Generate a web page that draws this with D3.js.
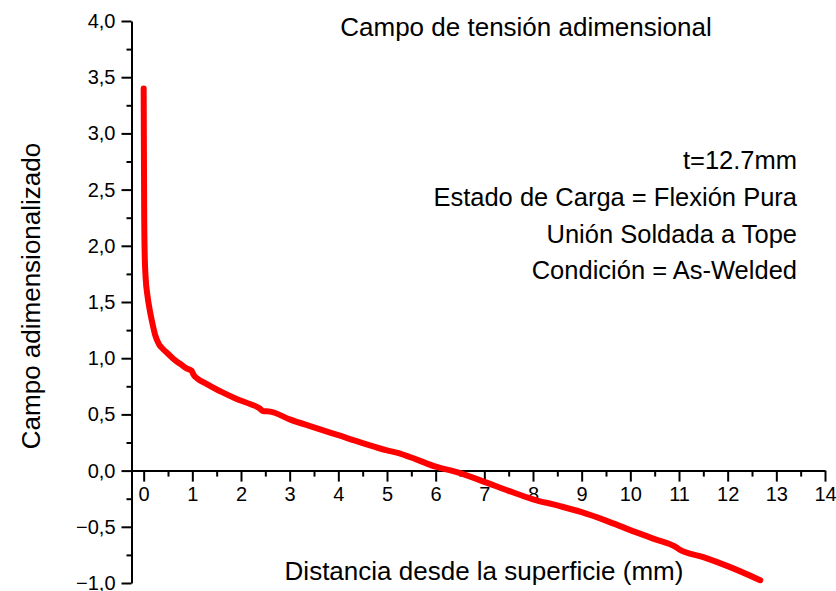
<!DOCTYPE html>
<html>
<head>
<meta charset="utf-8">
<script src="https://cdn.jsdelivr.net/npm/d3@7"></script>
<style>
  html, body { margin: 0; padding: 0; background: #fff; }
  svg { display: block; font-family: "Liberation Sans", Arial, sans-serif; }
</style>
</head>
<body>
<svg id="chart" width="836" height="591"></svg>
<script>
// Distance from the surface (mm) and the dimensionless stress field
const distance = [0, 0.005, 0.01, 0.02, 0.04, 0.08, 0.12, 0.17, 0.24, 0.32, 0.4, 0.5, 0.62, 0.75, 0.88, 0.98, 1.03, 1.1, 1.3, 1.6, 1.9, 2.2, 2.38, 2.45, 2.6, 3.0, 3.5, 4.0, 4.5, 5.0, 5.2, 5.6, 6.0, 6.4, 7.0, 7.5, 8.0, 8.5, 9.0, 9.5, 10.0, 10.5, 10.95, 11.0, 11.5, 12.0, 12.67];
const field = [3.40, 2.85, 2.35, 1.95, 1.72, 1.55, 1.44, 1.33, 1.20, 1.12, 1.08, 1.04, 0.99, 0.95, 0.91, 0.89, 0.85, 0.82, 0.77, 0.70, 0.64, 0.59, 0.555, 0.53, 0.525, 0.456, 0.385, 0.315, 0.245, 0.18, 0.16, 0.10, 0.035, -0.01, -0.10, -0.18, -0.255, -0.31, -0.37, -0.445, -0.53, -0.61, -0.685, -0.70, -0.77, -0.85, -0.975];

const xTicks = [0, 1, 2, 3, 4, 5, 6, 7, 8, 9, 10, 11, 12, 13, 14];
const yTicks = [-1.0, -0.5, 0.0, 0.5, 1.0, 1.5, 2.0, 2.5, 3.0, 3.5, 4.0];

const chartTitle = "Campo de tensión adimensional";
const notes = ["t=12.7mm", "Estado de Carga = Flexión Pura", "Unión Soldada a Tope", "Condición = As-Welded"];
const xTitle = "Distancia desde la superficie (mm)";
const yTitle = "Campo adimensionalizado";

const svg = d3.select("#chart");

const x = d3.scaleLinear().domain([-0.25, 14]).range([131.5, 825]);
const y = d3.scaleLinear().domain([-1, 4]).range([583, 21]);

const locale = d3.formatLocale({ decimal: ",", thousands: ".", grouping: [3], currency: ["", ""] });
const fmtY = locale.format(".1f");

// Minor ticks
const xMinor = d3.range(0.5, 14, 1);
const yMinor = d3.range(-0.75, 4, 0.5);

// Y axis (left spine)
svg.append("g").attr("transform", `translate(${x(-0.25)},0)`)
  .call(d3.axisLeft(y).tickValues(yTicks).tickFormat(fmtY).tickSize(10).tickSizeOuter(0).tickPadding(6));
svg.append("g").attr("transform", `translate(${x(-0.25)},0)`)
  .call(d3.axisLeft(y).tickValues(yMinor).tickFormat("").tickSize(5).tickSizeOuter(0))
  .select(".domain").remove();

// X axis crossing at zero
svg.append("g").attr("transform", `translate(0,${y(0)})`)
  .call(d3.axisBottom(x).tickValues(xTicks).tickFormat(d3.format("d")).tickSize(11).tickSizeOuter(0).tickPadding(5));
svg.append("g").attr("transform", `translate(0,${y(0)})`)
  .call(d3.axisBottom(x).tickValues(xMinor).tickFormat("").tickSize(6).tickSizeOuter(0))
  .select(".domain").remove();

svg.selectAll(".domain, .tick line").attr("stroke", "#000").attr("stroke-width", 2);
svg.selectAll(".tick text").attr("fill", "#000").style("font-size", "20px");

// Curve
const pts = distance.map((d, i) => [d, field[i]]);
svg.append("path")
  .datum(pts)
  .attr("fill", "none")
  .attr("stroke", "#ff0000")
  .attr("stroke-width", 6)
  .attr("stroke-linecap", "round")
  .attr("stroke-linejoin", "round")
  .attr("d", d3.line().x(d => x(d[0])).y(d => y(d[1])).curve(d3.curveMonotoneX));

// Titles
svg.append("text").attr("x", 526).attr("y", 36).attr("text-anchor", "middle")
  .style("font-size", "26px").text(chartTitle);

svg.selectAll(".note").data(notes).enter().append("text")
  .attr("class", "note")
  .attr("x", 797).attr("y", (d, i) => 169 + i * 36.8)
  .attr("text-anchor", "end")
  .style("font-size", "25.5px").text(d => d);

svg.append("text").attr("x", 484).attr("y", 580).attr("text-anchor", "middle")
  .style("font-size", "26px").text(xTitle);

svg.append("text").attr("transform", "translate(40,296) rotate(-90)").attr("text-anchor", "middle")
  .style("font-size", "26px").text(yTitle);
</script>
</body>
</html>
